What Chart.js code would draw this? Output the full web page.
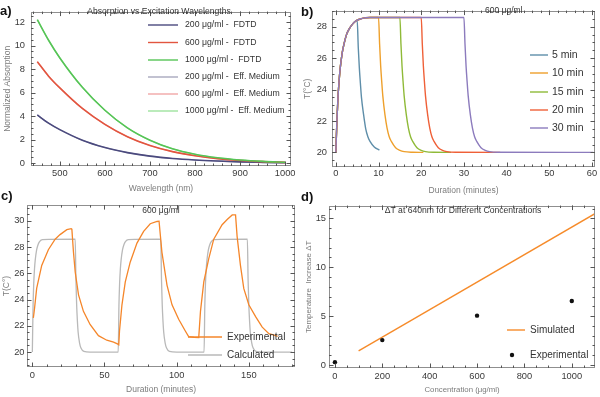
<!DOCTYPE html>
<html>
<head>
<meta charset="utf-8">
<script src="https://cdn.jsdelivr.net/npm/chart.js@4.4.1/dist/chart.umd.min.js"></script>
<style>
  html, body { margin: 0; padding: 0; background: #fff; }
  #wrap { position: relative; width: 600px; height: 397px; overflow: hidden; }
  canvas { position: absolute; }
  .tag { position: absolute; font: bold 13px 'Liberation Sans', Arial, sans-serif; color: #111; line-height: 13px; }
</style>
</head>
<body>
<div id="wrap">
  <canvas id="pa" width="300" height="197" style="left:0;top:0"></canvas>
  <canvas id="pb" width="300" height="197" style="left:300px;top:0"></canvas>
  <canvas id="pc" width="300" height="200" style="left:0;top:197px"></canvas>
  <canvas id="pd" width="300" height="200" style="left:300px;top:197px"></canvas>
  <div class="tag" style="left:0;top:4px">a)</div>
  <div class="tag" style="left:301px;top:5px">b)</div>
  <div class="tag" style="left:1px;top:189px">c)</div>
  <div class="tag" style="left:301px;top:190px">d)</div>
</div>
<script>
const F = "'Liberation Sans', Arial, sans-serif";

// a) absorption vs wavelength
const aWave = [450, 475, 500, 550, 600, 650, 700, 750, 800, 850, 900, 950, 1000];
const aAbs200 = [4.1, 3.4, 2.85, 1.95, 1.33, 0.9, 0.6, 0.4, 0.27, 0.18, 0.11, 0.07, 0.04];
const aAbs600 = [8.63, 7.4, 6.4, 4.65, 3.3, 2.25, 1.5, 0.98, 0.63, 0.39, 0.23, 0.13, 0.07];
const aAbs1000 = [12.2, 10.45, 8.95, 6.45, 4.5, 3.0, 1.95, 1.22, 0.76, 0.46, 0.27, 0.15, 0.08];
const aXTicks = [500, 600, 700, 800, 900, 1000];
const aYTicks = [0, 2, 4, 6, 8, 10, 12];

// b) simulated heating / cooling, 600 ug/ml
const bTime5 = [0, 0.25, 0.5, 0.75, 1, 1.5, 2, 2.5, 3, 4, 5, 5.25, 5.5, 5.75, 6, 6.5, 7, 7.5, 8, 9, 10.2];
const bTemp5 = [20, 22.0, 23.5, 24.5, 25.3, 26.35, 27.0, 27.5, 27.8, 28.2, 28.42, 26.7, 25.4, 24.4, 23.5, 22.4, 21.5, 21.0, 20.7, 20.35, 20.15];
const bTime10 = [0, 0.25, 0.5, 0.75, 1, 1.5, 2, 2.5, 3, 4, 5, 6, 7, 8, 10, 10.25, 10.5, 10.75, 11, 11.5, 12, 12.5, 13, 14, 15, 16, 18, 20.5];
const bTemp10 = [20, 22.0, 23.5, 24.5, 25.3, 26.35, 27.0, 27.5, 27.8, 28.2, 28.42, 28.52, 28.57, 28.59, 28.6, 26.9, 25.5, 24.5, 23.6, 22.4, 21.55, 21.0, 20.7, 20.3, 20.13, 20.05, 20.01, 20.0];
const bTime15 = [0, 0.25, 0.5, 0.75, 1, 1.5, 2, 2.5, 3, 4, 5, 6, 7, 8, 15, 15.25, 15.5, 15.75, 16, 16.5, 17, 17.5, 18, 19, 20, 21, 23, 27];
const bTemp15 = [20, 22.0, 23.5, 24.5, 25.3, 26.35, 27.0, 27.5, 27.8, 28.2, 28.42, 28.52, 28.57, 28.59, 28.6, 26.9, 25.5, 24.5, 23.6, 22.4, 21.55, 21.0, 20.7, 20.3, 20.13, 20.05, 20.01, 20.0];
const bTime20 = [0, 0.25, 0.5, 0.75, 1, 1.5, 2, 2.5, 3, 4, 5, 6, 7, 8, 20, 20.25, 20.5, 20.75, 21, 21.5, 22, 22.5, 23, 24, 25, 26, 28, 38.5];
const bTemp20 = [20, 22.0, 23.5, 24.5, 25.3, 26.35, 27.0, 27.5, 27.8, 28.2, 28.42, 28.52, 28.57, 28.59, 28.6, 26.9, 25.5, 24.5, 23.6, 22.4, 21.55, 21.0, 20.7, 20.3, 20.13, 20.05, 20.01, 20.0];
const bTime30 = [0, 0.25, 0.5, 0.75, 1, 1.5, 2, 2.5, 3, 4, 5, 6, 7, 8, 30, 30.25, 30.5, 30.75, 31, 31.5, 32, 32.5, 33, 34, 35, 36, 38, 60.3];
const bTemp30 = [20, 22.0, 23.5, 24.5, 25.3, 26.35, 27.0, 27.5, 27.8, 28.2, 28.42, 28.52, 28.57, 28.59, 28.6, 26.9, 25.5, 24.5, 23.6, 22.4, 21.55, 21.0, 20.7, 20.3, 20.13, 20.05, 20.01, 20.0];
const bXTicks = [0, 10, 20, 30, 40, 50, 60];
const bYTicks = [20, 22, 24, 26, 28];

// c) three on/off cycles
const cTimeExp = [0.7, 1.5, 3.0, 6.5, 11.1, 15.8, 19.2, 23.9, 26.9, 27.4, 28.5, 29.7, 32.0, 35.4, 40.0, 45.8, 51.6, 56.3, 59.3, 59.9,
  60.4, 62.1, 64.4, 67.8, 72.5, 77.1, 81.7, 86.4, 87.8, 89.8, 93.3, 96.8, 101.4, 106.0, 108.3, 112.0, 115.3,
  116.5, 118.8, 122.2, 125.7, 131.5, 135.0, 138.5, 140.8, 141.9, 144.2, 146.5, 150.0, 154.7, 159.3, 163.9, 167.0, 170.0];
const cTempExp = [22.6, 23.3, 24.85, 26.6, 27.8, 28.6, 28.95, 29.33, 29.4, 29.35, 27.6, 26.1, 24.36, 23.1, 22.1, 21.25, 20.9, 20.75, 20.6, 20.55,
  21.6, 23.6, 25.35, 26.85, 28.3, 29.2, 29.78, 29.95, 29.97, 27.6, 25.1, 23.6, 22.5, 21.6, 21.17, 21.12, 21.1,
  23.1, 25.35, 27.1, 28.6, 29.7, 30.1, 30.45, 30.45, 28.8, 26.6, 24.85, 23.6, 22.7, 21.9, 21.4, 21.3, 21.2];
const cTimeCalc = [0, 0.5, 1, 1.5, 2, 3, 4, 5, 7, 29.7, 30.2, 30.7, 31.2, 31.7, 32.7, 33.7, 35.7, 40, 59.5,
  60, 60.5, 61, 61.5, 62.5, 63.5, 64.5, 66.5, 89, 89.5, 90, 90.5, 91, 92, 93, 95, 100, 119,
  119.5, 120, 120.5, 121, 122, 123, 124, 126, 149, 149.5, 150, 150.5, 151, 152, 153, 155, 160, 180];
const cTempCalc = [20, 23.5, 25.3, 26.35, 27.0, 27.8, 28.2, 28.42, 28.57, 28.6, 25.5, 23.6, 22.4, 21.55, 20.7, 20.3, 20.05, 20, 20,
  23.5, 25.3, 26.35, 27.0, 27.8, 28.2, 28.42, 28.57, 28.6, 25.5, 23.6, 22.4, 21.55, 20.7, 20.3, 20.05, 20, 20,
  23.5, 25.3, 26.35, 27.0, 27.8, 28.2, 28.42, 28.57, 28.6, 25.5, 23.6, 22.4, 21.55, 20.7, 20.3, 20.05, 20, 20];
const cXTicks = [0, 50, 100, 150];
const cYTicks = [20, 22, 24, 26, 28, 30];

// d) temperature increase vs concentration
const dConcSim = [100, 1100];
const dRiseSim = [1.45, 15.5];
const dConcExp = [0, 200, 600, 1000];
const dRiseExp = [0.3, 2.55, 5.05, 6.55];
const dXTicks = [0, 200, 400, 600, 800, 1000];
const dYTicks = [0, 5, 10, 15];

const pts = (xs, ys) => xs.map((x, i) => ({ x: x, y: ys[i] }));

function overlay(minorX, minorY, keys, notes) {
  return {
    id: 'overlay',
    afterDatasetsDraw(chart) {
      const { ctx, chartArea: a, scales } = chart;
      const sx = scales.x, sy = scales.y;
      ctx.save();
      ctx.strokeStyle = '#8f8f8f';
      ctx.lineWidth = 1;
      ctx.strokeRect(Math.round(a.left) + 0.5, Math.round(a.top) + 0.5,
        Math.round(a.right - a.left) - 1, Math.round(a.bottom - a.top) - 1);
      ctx.strokeStyle = '#555';
      ctx.beginPath();
      const xt = (v, len) => {
        const p = Math.round(sx.getPixelForValue(v)) + 0.5;
        ctx.moveTo(p, a.bottom); ctx.lineTo(p, a.bottom - len);
        ctx.moveTo(p, a.top); ctx.lineTo(p, a.top + len);
      };
      const yt = (v, len) => {
        const p = Math.round(sy.getPixelForValue(v)) + 0.5;
        ctx.moveTo(a.left, p); ctx.lineTo(a.left + len, p);
        ctx.moveTo(a.right, p); ctx.lineTo(a.right - len, p);
      };
      for (let i = Math.ceil(sx.min / minorX); i * minorX <= sx.max; i++) xt(i * minorX, 2.5);
      for (let i = Math.ceil(sy.min / minorY); i * minorY <= sy.max; i++) yt(i * minorY, 2.5);
      sx.ticks.forEach(t => xt(t.value, 4.5));
      sy.ticks.forEach(t => yt(t.value, 4.5));
      ctx.stroke();
      ctx.restore();
    },
    afterDraw(chart) {
      const ctx = chart.ctx;
      ctx.save();
      ctx.textBaseline = 'middle';
      notes.forEach(n => {
        ctx.font = n.size + 'px ' + F;
        ctx.fillStyle = '#333';
        ctx.textAlign = n.align || 'center';
        ctx.fillText(n.text, n.x, n.y);
      });
      keys.forEach(k => {
        if (k.dot) {
          ctx.fillStyle = k.color;
          ctx.beginPath();
          ctx.arc(k.x + k.w / 2, k.y, 2.2, 0, Math.PI * 2);
          ctx.fill();
        } else {
          ctx.strokeStyle = k.color;
          ctx.lineWidth = 1.4;
          ctx.beginPath();
          ctx.moveTo(k.x, k.y); ctx.lineTo(k.x + k.w, k.y);
          ctx.stroke();
        }
        ctx.font = k.size + 'px ' + F;
        ctx.fillStyle = '#333';
        ctx.textAlign = 'left';
        ctx.fillText(k.text, k.tx, k.y);
      });
      ctx.restore();
    }
  };
}

function axis(pos, min, max, ticks, title, size, tickPad, titlePad, titleSize) {
  return {
    type: 'linear', position: pos, min: min, max: max,
    grid: { display: false, drawTicks: false },
    border: { display: false },
    afterBuildTicks: s => { s.ticks = ticks.map(v => ({ value: v })); },
    afterFit: s => { if (pos === 'left') s.width = size; else s.height = size; },
    ticks: { color: '#3a3a3a', font: { family: F, size: 9.3 }, padding: tickPad, maxRotation: 0, autoSkip: false,
      callback: v => String(v) },
    title: { display: true, text: title, color: '#7c7c7c', font: { family: F, size: titleSize || 8.5 },
      padding: { top: titlePad, bottom: titlePad } }
  };
}

function makeChart(id, datasets, xAxis, yAxis, pad, plug) {
  return new Chart(document.getElementById(id), {
    type: 'line',
    data: { datasets: datasets },
    options: {
      responsive: false,
      animation: false,
      layout: { padding: { left: 0, bottom: 0, top: pad.top, right: pad.right } },
      plugins: { legend: { display: false }, tooltip: { enabled: false }, title: { display: false } },
      elements: { point: { radius: 0 }, line: { tension: 0 } },
      scales: { x: xAxis, y: yAxis }
    },
    plugins: [plug]
  });
}

const line = (data, color, width, extra) => Object.assign({
  data: data, borderColor: color, borderWidth: width, fill: false,
  pointRadius: 0, cubicInterpolationMode: 'monotone'
}, extra || {});

// ---- a)
makeChart('pa', [
  line(pts(aWave, aAbs1000), '#56c456', 1.6),
  line(pts(aWave, aAbs600), '#e2553f', 1.6),
  line(pts(aWave, aAbs200), '#4b4a7e', 1.6),
  line(pts(aWave, aAbs1000), '#9ee29e', 1.2),
  line(pts(aWave, aAbs600), '#f1a7a7', 1.2),
  line(pts(aWave, aAbs200), '#a8a8bd', 1.2)
],
  axis('bottom', 436, 1013, aXTicks, 'Wavelength (nm)', 31, 2, 3.5),
  axis('left', -0.24, 12.89, aYTicks, 'Normalized Absorption', 31, 6, 3),
  { top: 3, right: 9 },
  overlay(20, 0.5, [
    { text: '200 \u03bcg/ml -  FDTD', color: '#4b4a7e', x: 148, w: 30, tx: 185, y: 25, size: 8.7 },
    { text: '600 \u03bcg/ml -  FDTD', color: '#e2553f', x: 148, w: 30, tx: 185, y: 42.5, size: 8.7 },
    { text: '1000 \u03bcg/ml -  FDTD', color: '#56c456', x: 148, w: 30, tx: 185, y: 60, size: 8.7 },
    { text: '200 \u03bcg/ml -  Eff. Medium', color: '#a8a8bd', x: 148, w: 30, tx: 185, y: 77, size: 8.7 },
    { text: '600 \u03bcg/ml -  Eff. Medium', color: '#f1a7a7', x: 148, w: 30, tx: 185, y: 94, size: 8.7 },
    { text: '1000 \u03bcg/ml -  Eff. Medium', color: '#9ee29e', x: 148, w: 30, tx: 185, y: 111, size: 8.7 }
  ], [
    { text: 'Absorption vs Excitation Wavelengths', x: 159, y: 12, size: 8.6 }
  ])
);

// ---- b)
makeChart('pb', [
  line(pts(bTime30, bTemp30), '#8c7bbd', 1.4),
  line(pts(bTime20, bTemp20), '#ef6038', 1.4),
  line(pts(bTime15, bTemp15), '#8fba38', 1.4),
  line(pts(bTime10, bTemp10), '#eea02c', 1.4),
  line(pts(bTime5, bTemp5), '#5e8ea9', 1.4)
],
  axis('bottom', -0.9, 60.7, bXTicks, 'Duration (minutes)', 30, 1, 1.2),
  axis('left', 19.07, 29.03, bYTicks, 'T(\u00b0C)', 32, 5, 3),
  { top: 3, right: 5 },
  overlay(2, 0.5, [
    { text: '5 min', color: '#5e8ea9', x: 230, w: 18, tx: 252, y: 55, size: 10.5 },
    { text: '10 min', color: '#eea02c', x: 230, w: 18, tx: 252, y: 73, size: 10.5 },
    { text: '15 min', color: '#8fba38', x: 230, w: 18, tx: 252, y: 92, size: 10.5 },
    { text: '20 min', color: '#ef6038', x: 230, w: 18, tx: 252, y: 110, size: 10.5 },
    { text: '30 min', color: '#8c7bbd', x: 230, w: 18, tx: 252, y: 128, size: 10.5 }
  ], [
    { text: '600 \u03bcg/ml', x: 185, y: 10.5, size: 8.5, align: 'left' }
  ])
);

// ---- c)
makeChart('pc', [
  line(pts(cTimeExp, cTempExp), '#f5862a', 1.3, { cubicInterpolationMode: 'default' }),
  line(pts(cTimeCalc, cTempCalc), '#b9b9b9', 1.3)
],
  axis('bottom', -3.7, 182, cXTicks, 'Duration (minutes)', 30, 3, 2.6),
  axis('left', 18.86, 31.2, cYTicks, 'T(C\u00b0)', 27, 2.5, 2),
  { top: 5, right: 5 },
  overlay(10, 0.5, [
    { text: 'Experimental', color: '#f5862a', x: 188, w: 34, tx: 227, y: 140, size: 10 },
    { text: 'Calculated', color: '#b9b9b9', x: 188, w: 34, tx: 227, y: 158, size: 10 }
  ], [
    { text: '600 \u03bcg/ml', x: 161, y: 14, size: 8.5 }
  ])
);

// ---- d)
makeChart('pd', [
  line(pts(dConcExp, dRiseExp), '#111', 0, { showLine: false, pointRadius: 2.2, pointBackgroundColor: '#111', pointBorderWidth: 0 }),
  line(pts(dConcSim, dRiseSim), '#f68b2a', 1.4)
],
  axis('bottom', -25, 1098, dXTicks, 'Concentration (\u03bcg/ml)', 29, 2.7, 2.2, 7.8),
  axis('left', -0.3, 16.3, dYTicks, 'Temperature  Increase \u0394T', 29, 3, 4, 8),
  { top: 5, right: 5 },
  overlay(50, 1, [
    { text: 'Simulated', color: '#f68b2a', x: 207, w: 18, tx: 230, y: 133, size: 10 },
    { text: 'Experimental', color: '#111', dot: true, x: 207, w: 10, tx: 230, y: 158, size: 10 }
  ], [
    { text: '\u0394T at 640nm for Different Concentrations', x: 163, y: 14, size: 8.6 }
  ])
);
</script>
</body>
</html>
